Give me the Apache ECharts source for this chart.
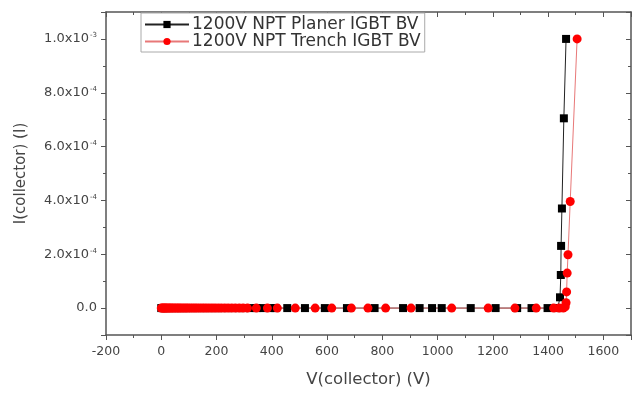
<!DOCTYPE html>
<html>
<head>
<meta charset="utf-8">
<script src="https://cdn.jsdelivr.net/npm/echarts@6/dist/echarts.min.js"></script>
<style>
  html, body { margin: 0; padding: 0; background: #fff; }
  #chart { width: 642px; height: 393px; }
</style>
</head>
<body>
<div id="chart"></div>
<script>
// 1200V NPT Planer IGBT BV  (V, A)
var planerV = [0, 5, 10, 15, 20, 30, 40, 50, 60, 70, 80, 90, 100, 115, 130, 145, 160, 175, 190, 205,
    220, 240, 260, 280, 300, 320, 345, 370, 395, 413, 456, 520, 592, 672, 772, 875, 935, 980, 1015,
    1120, 1210, 1288, 1340, 1398, 1435, 1443, 1446, 1447, 1450, 1457, 1465]
var planerI = [0, 0, 0, 0, 0, 0, 0, 0, 0, 0, 0, 0, 0, 0, 0, 0, 0, 0, 0, 0,
    0, 0, 0, 0, 0, 0, 0, 0, 0, 0, 0, 0, 0, 0, 0, 0, 0, 0, 0,
    0, 0, 0, 0, 0, 0, 4e-5, 1.23e-4, 2.31e-4, 3.7e-4, 7.05e-4, 1.0e-3]

// 1200V NPT Trench IGBT BV
var trenchV = [0, 4, 8, 12, 16, 20, 25, 30, 35, 40, 46, 52, 58, 64, 70, 77, 84, 91, 98, 106,
    114, 122, 130, 139, 148, 157, 166, 176, 186, 196, 207, 218, 230, 242, 255, 268, 282, 296,
    312, 344, 384, 420, 485, 557, 617, 688, 748, 812, 904, 1051, 1183, 1280, 1357, 1420, 1440,
    1455, 1462, 1465, 1467, 1469, 1472, 1480, 1505]
var trenchI = [0, 0, 0, 0, 0, 0, 0, 0, 0, 0, 0, 0, 0, 0, 0, 0, 0, 0, 0, 0,
    0, 0, 0, 0, 0, 0, 0, 0, 0, 0, 0, 0, 0, 0, 0, 0, 0, 0,
    0, 0, 0, 0, 0, 0, 0, 0, 0, 0, 0, 0, 0, 0, 0, 0, 0,
    0, 5e-6, 2e-5, 6e-5, 1.3e-4, 1.98e-4, 3.96e-4, 1.0e-3]

var xTicks = { min: -200, max: 1700, interval: 200 }
var yRange = { min: -1e-4, max: 1.1e-3 }

function pairs (xs, ys) {
    return xs.map(function (x, i) { return [x, ys[i]] })
}

var chart = echarts.init(document.getElementById('chart'))
var axisColor = '#555'
var labelColor = '#444'
var font = 'DejaVu Sans, Verdana, sans-serif'

chart.setOption({
    animation: false,
    backgroundColor: '#fff',
    textStyle: { fontFamily: font },
    grid: { left: 106, right: 11, top: 12, bottom: 58 },
    legend: {
        orient: 'vertical',
        left: 141,
        top: 13,
        padding: [3, 4, 2, 3],
        itemGap: 0,
        itemWidth: 44,
        itemHeight: 9,
        borderColor: '#aaa',
        borderWidth: 1,
        borderRadius: 0,
        backgroundColor: '#fff',
        textStyle: { fontSize: 17, color: '#333', fontFamily: font, padding: [0, 0, 0, -2] },
        data: ['1200V NPT Planer IGBT BV', '1200V NPT Trench IGBT BV']
    },
    xAxis: [
        {
            type: 'value',
            min: xTicks.min,
            max: xTicks.max,
            interval: xTicks.interval,
            name: 'V(collector) (V)',
            nameLocation: 'middle',
            nameGap: 36,
            nameTextStyle: { fontSize: 16.5, color: labelColor },
            axisLine: { onZero: false, lineStyle: { color: axisColor, width: 1.5 } },
            axisTick: { inside: false, length: 5, lineStyle: { color: axisColor } },
            minorTick: { show: true, splitNumber: 2, length: 3, lineStyle: { color: axisColor } },
            axisLabel: {
                fontSize: 12.5,
                color: labelColor,
                margin: 10,
                showMaxLabel: false,
                formatter: function (v) { return String(v) }
            },
            splitLine: { show: false }
        },
        {
            type: 'value',
            position: 'top',
            min: xTicks.min,
            max: xTicks.max,
            interval: xTicks.interval,
            axisLine: { onZero: false, lineStyle: { color: axisColor, width: 1.5 } },
            axisTick: { inside: true, length: 5, lineStyle: { color: axisColor } },
            minorTick: { show: true, splitNumber: 2, length: 3, lineStyle: { color: axisColor } },
            axisLabel: { show: false },
            splitLine: { show: false }
        }
    ],
    yAxis: [
        {
            type: 'value',
            min: yRange.min,
            max: yRange.max,
            splitNumber: 6,
            name: 'I(collector) (I)',
            nameLocation: 'middle',
            nameGap: 77,
            nameTextStyle: { fontSize: 15, color: labelColor },
            axisLine: { onZero: false, lineStyle: { color: axisColor, width: 1.5 } },
            axisTick: { inside: false, length: 5, lineStyle: { color: axisColor } },
            minorTick: { show: true, splitNumber: 2, length: 3, lineStyle: { color: axisColor } },
            axisLabel: {
                color: labelColor,
                margin: 9,
                showMinLabel: false,
                showMaxLabel: false,
                formatter: function (v) {
                    if (Math.abs(v) < 1e-12) return '{a|0.0}'
                    var e = Math.floor(Math.log10(Math.abs(v)) + 1e-9)
                    var m = (v / Math.pow(10, e)).toFixed(1)
                    return '{a|' + m + 'x10}{s|' + e + '}'
                },
                rich: {
                    a: { fontSize: 13, color: labelColor, fontFamily: font },
                    s: { fontSize: 7, color: labelColor, fontFamily: font, verticalAlign: 'top', padding: [0, 0, 7, 1] }
                }
            },
            splitLine: { show: false }
        },
        {
            type: 'value',
            position: 'right',
            min: yRange.min,
            max: yRange.max,
            splitNumber: 6,
            axisLine: { onZero: false, lineStyle: { color: axisColor, width: 1.5 } },
            axisTick: { inside: true, length: 5, lineStyle: { color: axisColor } },
            minorTick: { show: true, splitNumber: 2, length: 3, lineStyle: { color: axisColor } },
            axisLabel: { show: false },
            splitLine: { show: false }
        }
    ],
    series: [
        {
            name: '1200V NPT Planer IGBT BV',
            type: 'line',
            xAxisIndex: 0,
            yAxisIndex: 0,
            symbol: 'rect',
            symbolSize: 8,
            itemStyle: { color: '#000' },
            lineStyle: { color: '#222', width: 1 },
            data: pairs(planerV, planerI)
        },
        {
            name: '1200V NPT Trench IGBT BV',
            type: 'line',
            xAxisIndex: 0,
            yAxisIndex: 0,
            symbol: 'circle',
            symbolSize: 9,
            itemStyle: { color: '#f00' },
            lineStyle: { color: '#e87878', width: 1 },
            data: pairs(trenchV, trenchI)
        }
    ]
})
</script>
</body>
</html>
